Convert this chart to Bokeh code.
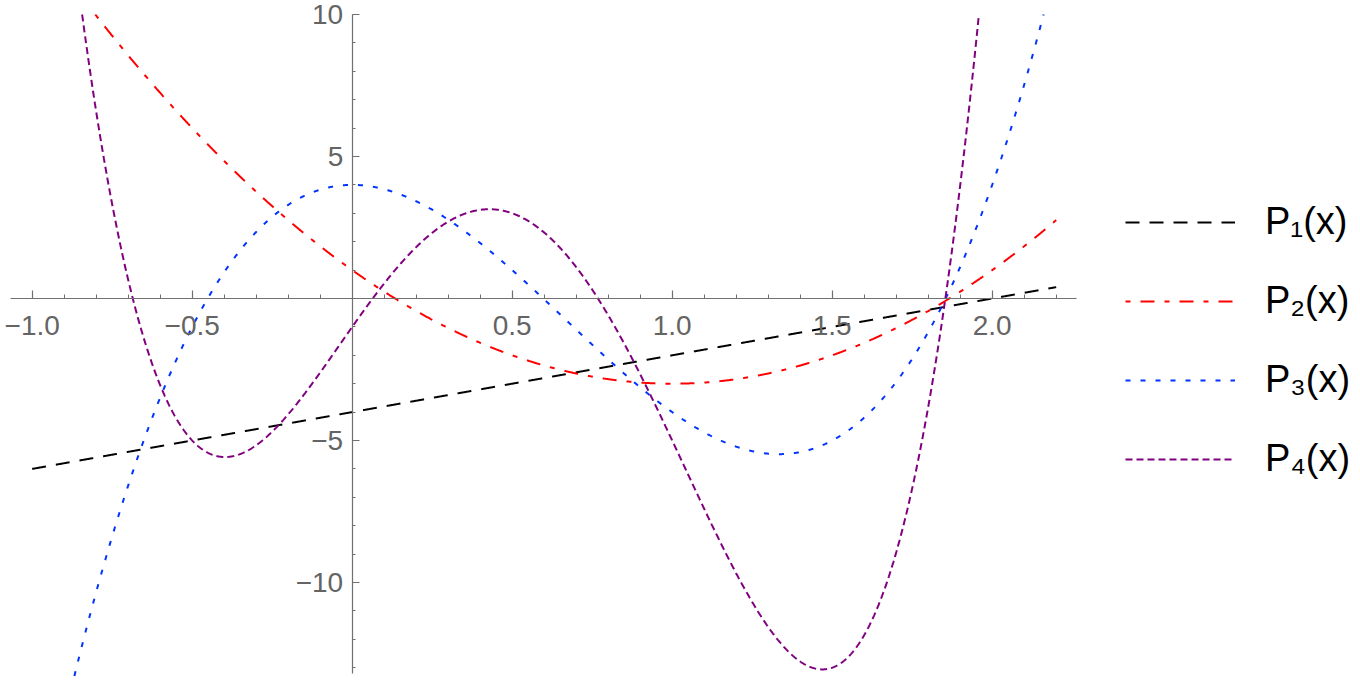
import numpy as np
from bokeh.plotting import figure
from bokeh.models import (LinearAxis, FixedTicker, CustomJSTickFormatter, Legend,
                          LegendItem, Range1d)
from bokeh.embed import file_html
from bokeh.resources import INLINE

# ---- data (polynomial coefficients, highest power first)
series_names = ["P\u2081(x)", "P\u2082(x)", "P\u2083(x)", "P\u2084(x)"]
p1_coeffs = [2, -4]
p2_coeffs = [4, -8, 1]
p3_coeffs = [8, -16, 0, 4]
p4_coeffs = [16, -32, -4, 16, -1]
x_domain = [-1.0, 2.2]
y_clip_top = 10

x_major_ticks = [-1.0, -0.5, 0.5, 1.0, 1.5, 2.0]
x_minor_ticks = [round(-1.0 + 0.1 * i, 1) for i in range(33)]
y_major_ticks = [-10, -5, 5, 10]
y_minor_ticks = list(range(-13, 11))

colors = ["black", "#ff0000", "#0033ff", "#800080"]
dashes = ["14 10", "5 10 14 10", "5 10", "7 4"]

FONT = "Liberation Sans"
AX = "#707070"
LBL = "#646464"

p = figure(width=1360, height=684, output_backend="svg", toolbar_location=None,
           x_axis_location=None, y_axis_location=None,
           x_range=Range1d(-1.09906, 3.15094), y_range=Range1d(-13.592, 10.493),
           min_border_left=0, min_border_right=0, min_border_top=0, min_border_bottom=0)
p.outline_line_color = None
p.background_fill_color = "white"
p.grid.visible = False

xaxis = LinearAxis(fixed_location=0,
                   ticker=FixedTicker(ticks=x_major_ticks, minor_ticks=x_minor_ticks),
                   formatter=CustomJSTickFormatter(code='return (tick < 0 ? "\\u2212" : "") + Math.abs(tick).toFixed(1);'),
                   bounds=(-1.068, 2.265))
yaxis = LinearAxis(fixed_location=0,
                   ticker=FixedTicker(ticks=y_major_ticks, minor_ticks=y_minor_ticks),
                   formatter=CustomJSTickFormatter(code='return (tick < 0 ? "\\u2212" : "") + Math.abs(tick).toFixed(0);'),
                   bounds=(-13.2, 10))
for ax in (xaxis, yaxis):
    ax.axis_line_color = AX
    ax.axis_line_width = 1.2
    ax.major_tick_line_color = AX
    ax.minor_tick_line_color = AX
    ax.major_tick_line_width = 1.2
    ax.minor_tick_line_width = 1.0
    ax.major_tick_out = 0
    ax.minor_tick_out = 0
    ax.major_label_text_font = FONT
    ax.major_label_text_font_size = "28px"
    ax.major_label_text_color = LBL
xaxis.major_tick_in = 8
xaxis.minor_tick_in = 4
xaxis.major_label_standoff = 18
yaxis.major_tick_in = 7
yaxis.minor_tick_in = 3
yaxis.major_label_standoff = 9
p.add_layout(xaxis, "below")
p.add_layout(yaxis, "left")

base_x = np.linspace(x_domain[0], x_domain[1], 2400)
renderers = []
for coeffs, c, d in zip([p1_coeffs, p2_coeffs, p3_coeffs, p4_coeffs], colors, dashes):
    shifted = np.array(coeffs, dtype=float)
    shifted[-1] -= y_clip_top
    roots = np.roots(shifted)
    roots = roots[np.abs(roots.imag) < 1e-9].real
    roots = roots[(roots >= x_domain[0]) & (roots <= x_domain[1])]
    xs = np.unique(np.concatenate([base_x, roots]))
    ys = np.polyval(coeffs, xs)
    ys = np.where(ys > y_clip_top + 1e-9, np.nan, ys)
    r = p.line(xs, ys, line_color=c, line_width=2, line_dash=d)
    renderers.append(r)

legend = Legend(items=[LegendItem(label=n, renderers=[r]) for n, r in zip(series_names, renderers)],
                location=(1125, 204), glyph_width=110, glyph_height=40, label_height=40,
                spacing=36, label_standoff=30, padding=0, margin=0,
                border_line_alpha=0, background_fill_alpha=0,
                label_text_font=FONT, label_text_font_size="38px", label_text_color="black")
p.add_layout(legend)

open("out.html", "w").write(file_html(p, INLINE))
